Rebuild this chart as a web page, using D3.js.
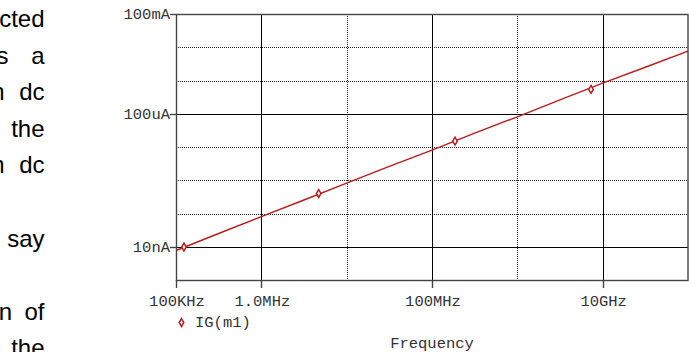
<!DOCTYPE html>
<html>
<head>
<meta charset="utf-8">
<script src="https://cdn.jsdelivr.net/npm/d3@7"></script>
<style>
  body { margin: 0; background: #fff; }
  svg { display: block; }
  .mono { font-family: "Liberation Mono", "Courier New", monospace; font-size: 15.5px; fill: #333; }
  .prose { font-family: "Liberation Sans", Arial, sans-serif; font-size: 24px; fill: #000; }
</style>
</head>
<body>
<script>
// trace IG(m1) (Hz, A)
var freqHz = [1e5, 3.16e5, 1e6, 3.16e6, 1e7, 3.16e7, 1e8, 3.16e8, 1e9, 3.16e9, 1e10, 3.16e10, 1e11];
var igAmps = [7.7e-9, 2.5e-8, 8.0e-8, 2.55e-7, 8.2e-7, 2.6e-6, 8.1e-6, 2.6e-5, 8.1e-5, 2.6e-4, 8.3e-4, 2.5e-3, 7.6e-3];

// diamond markers on the trace
var markerHz = [1.24e5, 4.7e6, 1.86e8, 7.3e9];
var markerAmps = [9.8e-9, 4.0e-7, 1.5e-5, 5.4e-4];

var xTickValues = [1e5, 1e6, 1e8, 1e10];
var xTickLabels = ["100KHz", "1.0MHz", "100MHz", "10GHz"];
var yTickValues = [1e-1, 1e-4, 1e-8];
var yTickLabels = ["100mA", "100uA", "10nA"];

// gridlines: solid ones and dotted ones
var xSolid = [1e6, 1e8, 1e10];
var xDotted = [1e7, 1e9];
var ySolid = [1e-4, 1e-8];
var yDotted = [1e-2, 1e-3, 1e-5, 1e-6, 1e-7];

// cut-off paragraph text on the left edge
var proseLines = [["cted"], ["s", "a"], ["n", "dc"], ["the"], ["n", "dc"], [], ["say"], [], ["n", "of"], ["the"]];

var svgWidth = 689;
var svgHeight = 352;

var margin = { top: 14, right: 1, bottom: 72, left: 176 };
var width = svgWidth - margin.left - margin.right;
var height = svgHeight - margin.top - margin.bottom;

var svg = d3.select("body")
  .append("svg")
  .attr("width", svgWidth)
  .attr("height", svgHeight);

var x = d3.scaleLog().domain([1e5, 1e11]).range([margin.left, margin.left + width]);
var y = d3.scaleLog().domain([1e-9, 1e-1]).range([margin.top + height, margin.top]);

function px(v) { return Math.round(v) + 0.5; }

// prose fragments
var firstWordEnd = [0, 8.5, 4.5, 0, 4.5, 0, 0, 0, 12, 0];
proseLines.forEach(function(words, i) {
  var baseY = 27 + i * 36.6;
  if (words.length === 0) return;
  svg.append("text")
    .attr("class", "prose")
    .attr("x", 44.5)
    .attr("y", baseY)
    .attr("text-anchor", "end")
    .text(words[words.length - 1]);
  if (words.length > 1) {
    svg.append("text")
      .attr("class", "prose")
      .attr("x", firstWordEnd[i])
      .attr("y", baseY)
      .attr("text-anchor", "end")
      .text(words[0]);
  }
});

var grid = svg.append("g");

// dotted gridlines
grid.selectAll(".vdot")
  .data(xDotted)
  .enter()
  .append("line")
  .attr("x1", d => px(x(d))).attr("x2", d => px(x(d)))
  .attr("y1", margin.top).attr("y2", margin.top + height)
  .attr("stroke", "#222")
  .attr("stroke-dasharray", "1,1");

grid.selectAll(".hdot")
  .data(yDotted)
  .enter()
  .append("line")
  .attr("y1", d => px(y(d))).attr("y2", d => px(y(d)))
  .attr("x1", margin.left).attr("x2", margin.left + width)
  .attr("stroke", "#222")
  .attr("stroke-dasharray", "1,1");

// solid gridlines
grid.selectAll(".vsol")
  .data(xSolid)
  .enter()
  .append("line")
  .attr("x1", d => px(x(d))).attr("x2", d => px(x(d)))
  .attr("y1", margin.top).attr("y2", margin.top + height)
  .attr("stroke", "#000");

grid.selectAll(".hsol")
  .data(ySolid)
  .enter()
  .append("line")
  .attr("y1", d => px(y(d))).attr("y2", d => px(y(d)))
  .attr("x1", margin.left).attr("x2", margin.left + width)
  .attr("stroke", "#000");

// frame
svg.append("rect")
  .attr("x", px(margin.left))
  .attr("y", px(margin.top))
  .attr("width", Math.round(margin.left + width) - Math.round(margin.left) - 0.5)
  .attr("height", Math.round(height))
  .attr("fill", "none")
  .attr("stroke", "#444")
  .attr("stroke-width", 1.4);

// x axis ticks + labels
var xTicks = svg.append("g");
xTicks.selectAll("line")
  .data(xTickValues)
  .enter()
  .append("line")
  .attr("x1", d => px(x(d))).attr("x2", d => px(x(d)))
  .attr("y1", margin.top + height).attr("y2", margin.top + height + 8)
  .attr("stroke", "#444")
  .attr("stroke-width", 1.4);

xTicks.selectAll("text")
  .data(xTickValues)
  .enter()
  .append("text")
  .attr("class", "mono")
  .attr("x", d => x(d) + 1)
  .attr("y", 306)
  .attr("text-anchor", "middle")
  .text((d, i) => xTickLabels[i]);

// y axis ticks + labels
var yTicks = svg.append("g");
yTicks.selectAll("line")
  .data(yTickValues)
  .enter()
  .append("line")
  .attr("y1", d => px(y(d))).attr("y2", d => px(y(d)))
  .attr("x1", margin.left - 6).attr("x2", margin.left)
  .attr("stroke", "#444")
  .attr("stroke-width", 1.4);

yTicks.selectAll("text")
  .data(yTickValues)
  .enter()
  .append("text")
  .attr("class", "mono")
  .attr("x", margin.left - 6)
  .attr("y", d => y(d) + 5)
  .attr("text-anchor", "end")
  .text((d, i) => yTickLabels[i]);

// trace
var traceColor = "#b71c1c";
var line = d3.line()
  .x((d, i) => x(freqHz[i]))
  .y(d => y(d));

svg.append("path")
  .datum(igAmps)
  .attr("d", line)
  .attr("fill", "none")
  .attr("stroke", traceColor)
  .attr("stroke-width", 1.4);

var diamond = d3.symbol().type(d3.symbolDiamond).size(18);

svg.selectAll(".marker")
  .data(markerAmps)
  .enter()
  .append("path")
  .attr("d", diamond)
  .attr("transform", (d, i) => `translate(${x(markerHz[i])}, ${y(d)})`)
  .attr("fill", "#fff")
  .attr("stroke", traceColor)
  .attr("stroke-width", 1.5);

// legend
svg.append("path")
  .attr("d", diamond)
  .attr("transform", "translate(181.5, 322.5)")
  .attr("fill", "#fff")
  .attr("stroke", traceColor)
  .attr("stroke-width", 1.5);

svg.append("text")
  .attr("class", "mono")
  .attr("x", 195)
  .attr("y", 327)
  .text("IG(m1)");

svg.append("text")
  .attr("class", "mono")
  .attr("x", margin.left + width / 2)
  .attr("y", 348)
  .attr("text-anchor", "middle")
  .text("Frequency");
</script>
</body>
</html>
